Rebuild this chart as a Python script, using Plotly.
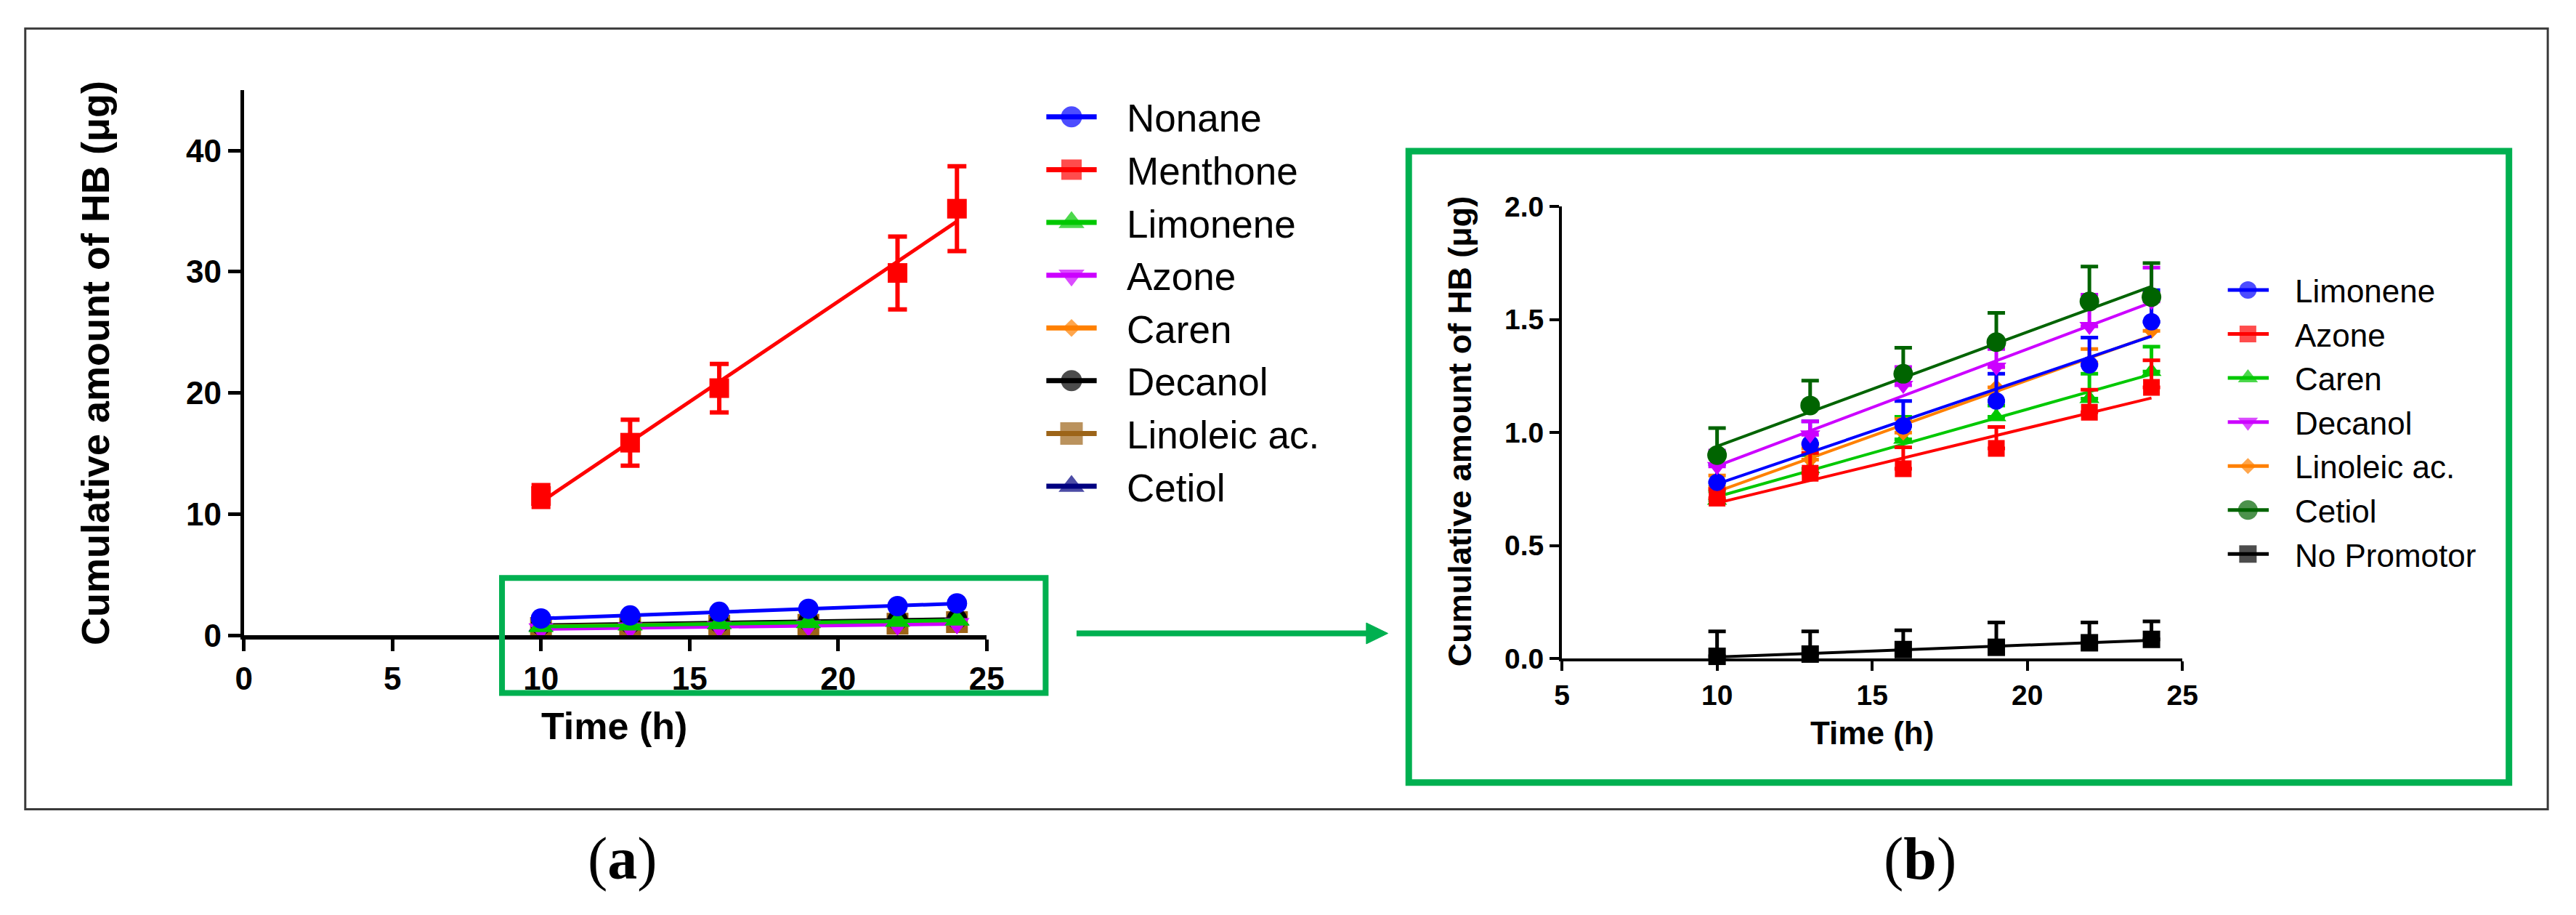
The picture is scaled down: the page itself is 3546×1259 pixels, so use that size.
import numpy as np
import plotly.graph_objects as go

# ---------------- data ----------------
time_h = [10, 13, 16, 19, 22, 24]

# panel (a)
a_names = ["Nonane", "Menthone", "Limonene", "Azone", "Caren", "Decanol", "Linoleic ac.", "Cetiol"]
a_nonane = [1.40, 1.65, 1.95, 2.20, 2.42, 2.65]
a_menthone = [11.5, 15.9, 20.4, None, 29.9, 35.2]
a_menthone_err = [0.9, 1.9, 2.0, None, 3.0, 3.5]
a_limonene = [0.72, 0.86, 0.97, 1.05, 1.16, 1.27]
a_azone = [0.55, 0.62, 0.70, 0.80, 0.88, 0.98]
a_caren = [0.78, 0.84, 0.93, 1.02, 1.12, 1.21]
a_decanol = [0.85, 0.97, 1.05, 1.18, 1.28, 1.36]
a_linoleic = [0.62, 0.70, 0.80, 0.88, 0.97, 1.10]
a_cetiol = [0.80, 0.92, 1.02, 1.12, 1.22, 1.30]

# panel (b)
b_names = ["Limonene", "Azone", "Caren", "Decanol", "Linoleic ac.", "Cetiol", "No Promotor"]
b_limonene = [0.78, 0.95, 1.03, 1.14, 1.30, 1.49]
b_limonene_err = [0.08, 0.10, 0.11, 0.12, 0.12, 0.14]
b_azone = [0.71, 0.82, 0.84, 0.93, 1.09, 1.20]
b_azone_err = [0.04, 0.09, 0.095, 0.095, 0.10, 0.12]
b_caren = [0.70, 0.84, 0.97, 1.07, 1.15, 1.27]
b_caren_err = [0.04, 0.06, 0.10, 0.05, 0.11, 0.11]
b_decanol = [0.85, 0.99, 1.21, 1.29, 1.47, 1.58]
b_decanol_err = [0.07, 0.06, 0.08, 0.08, 0.14, 0.15]
b_linoleic = [0.76, 0.88, 1.00, 1.20, 1.31, 1.45]
b_linoleic_err = [0.05, 0.05, 0.06, 0.09, 0.06, 0.17]
b_cetiol = [0.90, 1.12, 1.26, 1.40, 1.58, 1.60]
b_cetiol_err = [0.12, 0.11, 0.115, 0.13, 0.155, 0.15]
b_nopromo = [0.01, 0.02, 0.04, 0.05, 0.07, 0.085]
b_nopromo_err = [0.11, 0.10, 0.085, 0.11, 0.09, 0.08]

a_ticks_x = [0, 5, 10, 15, 20, 25]
a_ticks_y = [0, 10, 20, 30, 40]
b_ticks_x = [5, 10, 15, 20, 25]
b_ticks_y = [0.0, 0.5, 1.0, 1.5, 2.0]
y_title = "Cumulative amount of HB (\u03bcg)"
x_title = "Time (h)"

# ---------------- styles ----------------
W, H = 3546, 1259
FONT = "Arial, 'Liberation Sans', sans-serif"
SERIF = "'Times New Roman', 'Liberation Serif', serif"
GREEN_FRAME = "#00B050"

a_series = [  # name, values, err, color, symbol, size
    ("Nonane", a_nonane, None, "#0000FF", "circle", 28),
    ("Menthone", a_menthone, a_menthone_err, "#FF0000", "square", 27),
    ("Limonene", a_limonene, None, "#00C800", "triangle-up", 30),
    ("Azone", a_azone, None, "#CC00FF", "triangle-down", 30),
    ("Caren", a_caren, None, "#FF8000", "diamond", 18),
    ("Decanol", a_decanol, None, "#000000", "circle", 28),
    ("Linoleic ac.", a_linoleic, None, "#9C6418", "square", 30),
    ("Cetiol", a_cetiol, None, "#000080", "triangle-up", 30),
]
a_draw_order = ["Cetiol", "Linoleic ac.", "Decanol", "Caren", "Azone", "Limonene", "Menthone", "Nonane"]

b_series = [
    ("Limonene", b_limonene, b_limonene_err, "#0000FF", "circle", 24),
    ("Azone", b_azone, b_azone_err, "#FF0000", "square", 23),
    ("Caren", b_caren, b_caren_err, "#00C800", "triangle-up", 24),
    ("Decanol", b_decanol, b_decanol_err, "#CC00FF", "triangle-down", 24),
    ("Linoleic ac.", b_linoleic, b_linoleic_err, "#FF8000", "diamond", 17),
    ("Cetiol", b_cetiol, b_cetiol_err, "#006400", "circle", 27),
    ("No Promotor", b_nopromo, b_nopromo_err, "#000000", "square", 24),
]
b_draw_order = ["No Promotor", "Caren", "Linoleic ac.", "Azone", "Limonene", "Decanol", "Cetiol"]


def fit_line(x, y):
    pts = [(xi, yi) for xi, yi in zip(x, y) if yi is not None]
    xs = np.array([p[0] for p in pts], float)
    ys = np.array([p[1] for p in pts], float)
    k, b0 = np.polyfit(xs, ys, 1)
    xe = [float(xs.min()), float(xs.max())]
    return xe, [k * xe[0] + b0, k * xe[1] + b0]


fig = go.Figure()

# ---------- panel (a) ----------
a_lookup = {s[0]: s for s in a_series}
for nm in a_draw_order:
    name, vals, err, col, sym, size = a_lookup[nm]
    xe, ye = fit_line(time_h, vals)
    fig.add_trace(go.Scatter(x=xe, y=ye, mode="lines", line=dict(color=col, width=5),
                             xaxis="x", yaxis="y", showlegend=False, hoverinfo="skip",
                             cliponaxis=False))
    ey = None
    if err is not None:
        ey = dict(type="data", array=err, symmetric=True, color=col, thickness=6, width=13)
    fig.add_trace(go.Scatter(x=time_h, y=vals, mode="markers", name=name,
                             marker=dict(color=col, symbol=sym, size=size, line=dict(width=0)),
                             error_y=ey, xaxis="x", yaxis="y", showlegend=False,
                             cliponaxis=False))

# ---------- panel (b) ----------
b_lookup = {s[0]: s for s in b_series}
for nm in b_draw_order:
    name, vals, err, col, sym, size = b_lookup[nm]
    xe, ye = fit_line(time_h, vals)
    fig.add_trace(go.Scatter(x=xe, y=ye, mode="lines", line=dict(color=col, width=4),
                             xaxis="x2", yaxis="y2", showlegend=False, hoverinfo="skip",
                             cliponaxis=False))
    fig.add_trace(go.Scatter(x=time_h, y=vals, mode="markers", name=name,
                             marker=dict(color=col, symbol=sym, size=size, line=dict(width=0)),
                             error_y=dict(type="data", array=err, arrayminus=[0] * len(err),
                                          symmetric=False, color=col, thickness=5, width=12),
                             xaxis="x2", yaxis="y2", showlegend=False, cliponaxis=False))

# ---------- hand-made legends (pixel overlay axis x3/y3) ----------
LEG_A = dict(x0=1443, xc=1478, x1=1513, y0=145, dy=75.3, lw=7, text_x=1553, fs=53)
LEG_B = dict(x0=3086, xc=3114, x1=3143, y0=392, dy=62.8, lw=5, text_x=3177, fs=44)

annotations = []
for series, leg in ((a_series, LEG_A), (b_series, LEG_B)):
    for i, (name, vals, err, col, sym, size) in enumerate(series):
        yy = leg["y0"] + i * leg["dy"]
        fig.add_trace(go.Scatter(x=[leg["x0"], leg["xc"], leg["x1"]], y=[yy, yy, yy],
                                 mode="lines+markers",
                                 line=dict(color=col, width=leg["lw"]),
                                 marker=dict(color=col, symbol=sym,
                                             size=[0, size if leg is LEG_B else size + 1, 0],
                                             line=dict(width=0)),
                                 xaxis="x3", yaxis="y3", showlegend=False, hoverinfo="skip",
                                 cliponaxis=False))
        annotations.append(dict(x=leg["text_x"], y=yy + 0.04 * leg["fs"], xref="x3", yref="y3",
                                text=name, showarrow=False, xanchor="left", yanchor="middle",
                                font=dict(family=FONT, size=leg["fs"], color="black")))

# axis titles and panel labels
annotations += [
    dict(x=120, y=496, xref="x3", yref="y3", text=y_title, textangle=-90, showarrow=False,
         xanchor="center", yanchor="middle",
         font=dict(family=FONT, size=54, color="black", weight="bold")),
    dict(x=842, y=1014, xref="x3", yref="y3", text=x_title, showarrow=False,
         xanchor="center", yanchor="middle",
         font=dict(family=FONT, size=52, color="black", weight="bold")),
    dict(x=2018, y=594, xref="x3", yref="y3", text=y_title, textangle=-90, showarrow=False,
         xanchor="center", yanchor="middle",
         font=dict(family=FONT, size=45, color="black", weight="bold")),
    dict(x=2591, y=1024, xref="x3", yref="y3", text=x_title, showarrow=False,
         xanchor="center", yanchor="middle",
         font=dict(family=FONT, size=44, color="black", weight="bold")),
    dict(x=854, y=1203, xref="x3", yref="y3", text="(<b>a</b>)", showarrow=False,
         xanchor="center", yanchor="middle", font=dict(family=SERIF, size=82, color="black")),
    dict(x=2658, y=1203, xref="x3", yref="y3", text="(<b>b</b>)", showarrow=False,
         xanchor="center", yanchor="middle", font=dict(family=SERIF, size=82, color="black")),
]

shapes = [
    # outer frame
    dict(type="rect", xref="x3", yref="y3", x0=23, y0=19, x1=3531, y1=1133,
         line=dict(color="#3a3a3a", width=3), layer="below"),
    # zoom box on panel (a)
    dict(type="rect", xref="x3", yref="y3", x0=686, y0=803, x1=1442, y1=967,
         line=dict(color=GREEN_FRAME, width=8)),
    # frame around panel (b)
    dict(type="rect", xref="x3", yref="y3", x0=1947, y0=194, x1=3477, y1=1095,
         line=dict(color=GREEN_FRAME, width=9)),
    # arrow shaft and head
    dict(type="line", xref="x3", yref="y3", x0=1485, y0=882, x1=1895, y1=882,
         line=dict(color=GREEN_FRAME, width=8)),
    dict(type="path", xref="x3", yref="y3", path="M 1888 867 L 1918 882 L 1888 897 Z",
         fillcolor=GREEN_FRAME, line=dict(color=GREEN_FRAME, width=1)),
]


def px_x(p):
    return p / W


def px_y(p):
    return 1 - p / H


axis_common = dict(showgrid=False, zeroline=False, showline=True, linecolor="black",
                   ticks="outside", tickcolor="black")

fig.update_layout(
    width=W, height=H, autosize=False,
    margin=dict(l=0, r=0, t=0, b=0, pad=0),
    paper_bgcolor="white", plot_bgcolor="rgba(0,0,0,0)",
    showlegend=False,
    xaxis=dict(domain=[px_x(327), px_x(1360)], range=[0, 25], tickvals=a_ticks_x,
               anchor="y", linewidth=6, tickwidth=5, ticklen=16,
               tickfont=dict(family=FONT, size=44, color="black", weight="bold"), **axis_common),
    yaxis=dict(domain=[px_y(885), px_y(106.5)], range=[0, 45], tickvals=a_ticks_y,
               anchor="x", linewidth=5, tickwidth=5, ticklen=17,
               tickfont=dict(family=FONT, size=44, color="black", weight="bold"), **axis_common),
    xaxis2=dict(domain=[px_x(2160), px_x(3023)], range=[5, 25], tickvals=b_ticks_x,
                anchor="y2", linewidth=4, tickwidth=4, ticklen=13,
                tickfont=dict(family=FONT, size=39, color="black", weight="bold"), **axis_common),
    yaxis2=dict(domain=[px_y(918), px_y(273)], range=[0, 2.0], tickvals=b_ticks_y,
                tickformat=".1f", anchor="x2", linewidth=4, tickwidth=4, ticklen=13,
                tickfont=dict(family=FONT, size=39, color="black", weight="bold"), **axis_common),
    xaxis3=dict(domain=[0, 1], range=[0, W], visible=False, anchor="y3", fixedrange=True),
    yaxis3=dict(domain=[0, 1], range=[H, 0], visible=False, anchor="x3", fixedrange=True),
    annotations=annotations,
    shapes=shapes,
)

fig.write_html("out.html", config={"displayModeBar": False},
               post_script="document.body.style.margin='0';document.body.style.overflow='hidden';")
